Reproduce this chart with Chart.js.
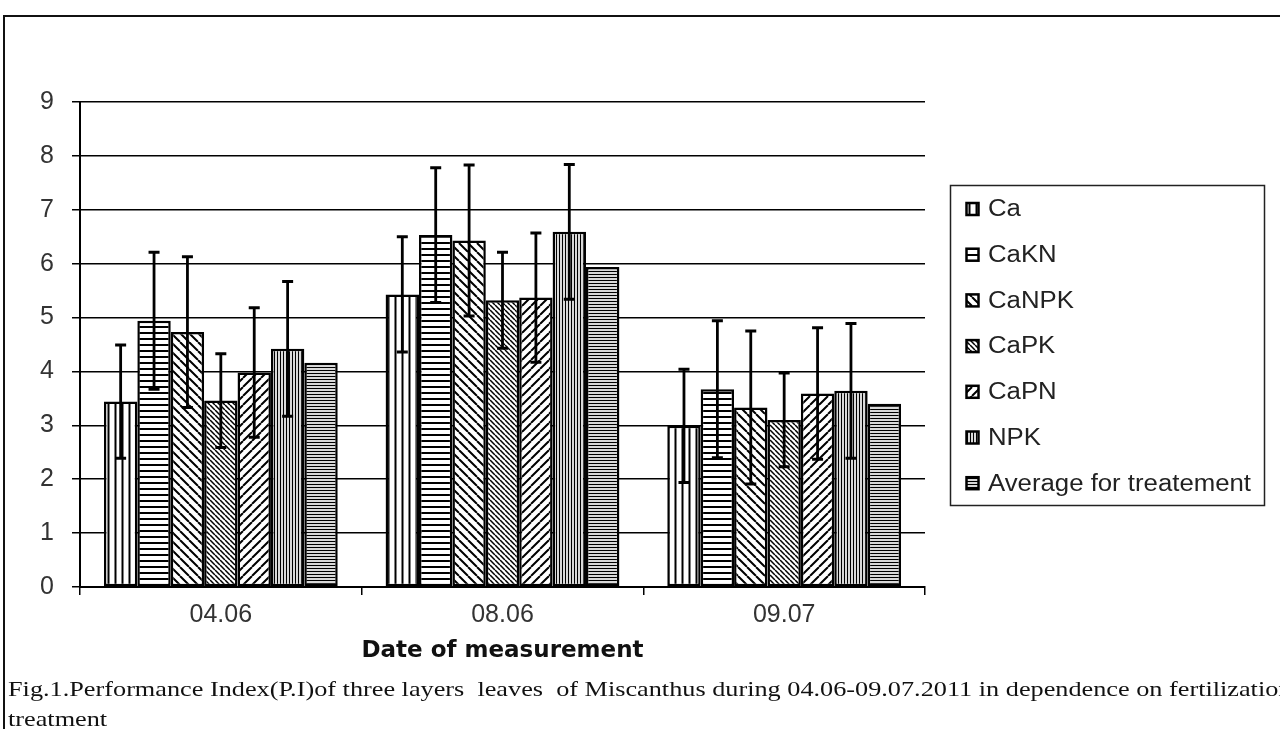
<!DOCTYPE html>
<html>
<head>
<meta charset="utf-8">
<script src="https://cdn.jsdelivr.net/npm/chart.js@4.4.0/dist/chart.umd.min.js"></script>
<style>
  body{margin:0;background:#fff;width:1280px;height:729px;overflow:hidden;position:relative;}
  #frame{position:absolute;left:3px;top:15px;width:1300px;height:800px;border-top:2px solid #111;border-left:2px solid #111;}
  #wrap{position:absolute;left:0;top:0;width:1280px;height:729px;}
  #caption{position:absolute;left:8px;top:674px;font-family:"Liberation Serif";font-size:21px;line-height:30px;white-space:nowrap;transform:scaleX(1.25);transform-origin:0 0;color:#111;}
</style>
</head>
<body>
<div id="frame"></div>
<div id="wrap"><canvas id="myChart" width="1280" height="729"></canvas></div>
<div id="caption">Fig.1.Performance Index(P.I)of three layers&nbsp; leaves&nbsp; of Miscanthus during 04.06-09.07.2011 in dependence on fertilization<br>treatment</div>
<script>
const dates = ['04.06', '08.06', '09.07'];
const yTicks = [0, 1, 2, 3, 4, 5, 6, 7, 8, 9];

const ca    = [3.44, 5.43, 2.99];
const caKN  = [4.94, 6.53, 3.67];
const caNPK = [4.73, 6.43, 3.33];
const caPK  = [3.46, 5.32, 3.10];
const caPN  = [3.98, 5.37, 3.59];
const npk   = [4.42, 6.59, 3.64];
const avg   = [4.16, 5.94, 3.40];

// standard deviation
const errCa    = [1.05, 1.07, 1.05];
const errCaKN  = [1.27, 1.25, 1.27];
const errCaNPK = [1.40, 1.40, 1.42];
const errCaPK  = [0.87, 0.89, 0.87];
const errCaPN  = [1.20, 1.20, 1.22];
const errNPK   = [1.25, 1.25, 1.25];

const canvas = document.getElementById('myChart');
const ctx = canvas.getContext('2d');

// hatch fills like the old excel b/w patterns
function hatch(kind, gap, lw){
  const c = document.createElement('canvas');
  c.width = gap; c.height = gap;
  const g = c.getContext('2d');
  g.fillStyle = '#fff'; g.fillRect(0, 0, gap, gap);
  g.strokeStyle = '#000'; g.lineWidth = lw;
  g.beginPath();
  if (kind === 'v') { g.moveTo(gap/2, 0); g.lineTo(gap/2, gap); }
  else if (kind === 'h') { g.moveTo(0, gap/2); g.lineTo(gap, gap/2); }
  else if (kind === 'back') { for (let k = -1; k <= 1; k++) { g.moveTo(k*gap, 0); g.lineTo(k*gap + gap, gap); } }
  else { for (let k = -1; k <= 1; k++) { g.moveTo(k*gap, gap); g.lineTo(k*gap + gap, 0); } }
  g.stroke();
  return ctx.createPattern(c, 'repeat');
}

function series(label, data, errors, fill){
  return {
    label: label,
    data: data,
    errors: errors,
    backgroundColor: fill,
    borderColor: '#000',
    borderWidth: 2.5,
    borderSkipped: false,
    barPercentage: 1.0,
    categoryPercentage: 0.83
  };
}

const errorBars = {
  id: 'errorBars',
  afterDatasetsDraw(chart){
    const c = chart.ctx, ys = chart.scales.y;
    c.save();
    c.strokeStyle = '#000';
    chart.data.datasets.forEach((ds, i) => {
      if (!ds.errors) return;
      chart.getDatasetMeta(i).data.forEach((bar, j) => {
        const v = ds.data[j], e = ds.errors[j];
        const top = ys.getPixelForValue(v + e), bot = ys.getPixelForValue(v - e);
        const x = bar.x;
        c.lineWidth = 2.8;
        c.beginPath(); c.moveTo(x, top); c.lineTo(x, bot); c.stroke();
        c.lineWidth = 3;
        c.beginPath();
        c.moveTo(x - 5.5, top); c.lineTo(x + 5.5, top);
        c.moveTo(x - 5.5, bot); c.lineTo(x + 5.5, bot);
        c.stroke();
      });
    });
    c.restore();
  }
};

const legendBox = {
  id: 'legendBox',
  afterDraw(chart){
    const c = chart.ctx;
    c.save();
    c.strokeStyle = '#222'; c.lineWidth = 1.5;
    c.strokeRect(950.5, 185.5, 314, 320);
    chart.data.datasets.forEach((ds, i) => {
      const y = 209 + i * 45.7;
      c.fillStyle = ds.backgroundColor;
      c.fillRect(966, y - 6.5, 13, 13);
      c.lineWidth = 2.5; c.strokeStyle = '#000';
      c.strokeRect(966.5, y - 6, 12, 12);
      c.save();
      c.translate(988, y + 1);
      c.scale(1.12, 1);
      c.font = '23px "Liberation Sans"';
      c.fillStyle = '#222';
      c.textBaseline = 'middle';
      c.fillText(ds.label, 0, 0);
      c.restore();
    });
    c.restore();
  }
};

new Chart(ctx, {
  type: 'bar',
  data: {
    labels: dates,
    datasets: [
      series('Ca', ca, errCa, hatch('v', 7, 2)),
      series('CaKN', caKN, errCaKN, hatch('h', 6, 2)),
      series('CaNPK', caNPK, errCaNPK, hatch('back', 9, 2)),
      series('CaPK', caPK, errCaPK, hatch('back', 5, 1.5)),
      series('CaPN', caPN, errCaPN, hatch('fwd', 9, 2)),
      series('NPK', npk, errNPK, hatch('v', 3, 1.3)),
      series('Average for treatement', avg, null, hatch('h', 3, 1.3))
    ]
  },
  options: {
    responsive: false,
    animation: false,
    layout: { padding: { left: 10, top: 102, right: 355, bottom: 62 } },
    plugins: {
      legend: { display: false },
      tooltip: { enabled: false }
    },
    scales: {
      x: {
        grid: { offset: true, drawOnChartArea: false, drawTicks: true, tickLength: 8, color: '#000', lineWidth: 1.5 },
        border: { display: true, color: '#000', width: 2 },
        ticks: { color: '#333', font: { family: 'Liberation Sans', size: 25 }, padding: 5 },
        title: { display: true, text: 'Date of measurement', color: '#111',
                 font: { family: 'DejaVu Sans', size: 23, weight: 'bold' }, padding: { top: 0, bottom: 2 } },
        afterFit(scale){ scale.height = 80; }
      },
      y: {
        min: 0, max: 9,
        afterBuildTicks(scale){ scale.ticks = yTicks.map(v => ({ value: v })); },
        grid: { color: '#000', lineWidth: 1.5, tickLength: 8 },
        border: { display: true, color: '#000', width: 2 },
        ticks: { color: '#333', font: { family: 'Liberation Sans', size: 25 }, padding: 18 },
        afterFit(scale){ scale.width = 70; }
      }
    }
  },
  plugins: [errorBars, legendBox]
});
</script>
</body>
</html>
